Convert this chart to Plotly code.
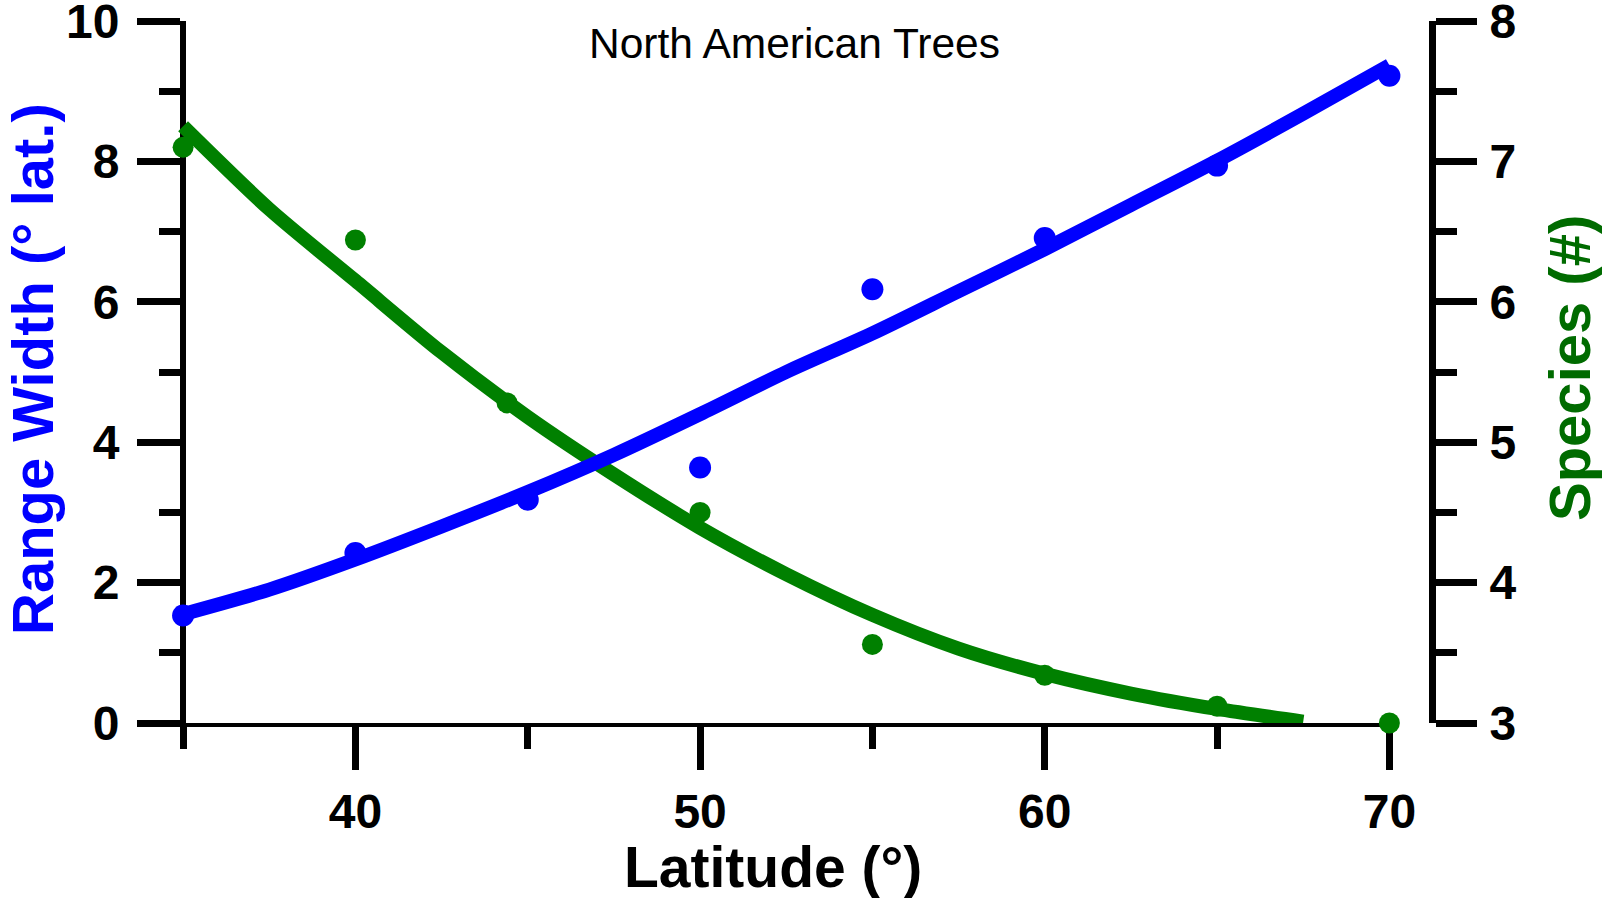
import plotly.graph_objects as go

# Observed values by latitude
LAT_POINTS = [35, 40, 45, 50, 55, 60, 65, 70]
RANGE_WIDTH = [1.53, 2.42, 3.18, 3.64, 6.18, 6.91, 7.94, 9.22]

SPECIES_LAT = [35, 40, 44.4, 50, 55, 60, 65, 70]
SPECIES = [7.10, 6.44, 5.28, 4.50, 3.56, 3.34, 3.12, 3.00]

# Fitted curves
FIT_LAT = [35, 37.5, 40, 42.5, 45, 47.5, 50, 52.5, 55, 57.5, 60, 62.5, 65, 67.5, 70]
RANGE_FIT = [1.55, 1.90, 2.33, 2.80, 3.29, 3.82, 4.40, 5.00, 5.55, 6.15, 6.75, 7.38, 8.01, 8.68, 9.37]
SPECIES_FIT_LAT = [35, 37.5, 40, 42.5, 45, 47.5, 50, 52.5, 55, 57.5, 60, 62.5, 65, 67.5]
SPECIES_FIT = [7.25, 6.66, 6.15, 5.64, 5.18, 4.77, 4.39, 4.06, 3.77, 3.53, 3.35, 3.21, 3.10, 3.01]

X_TICKS = [40, 50, 60, 70]
LEFT_TICKS = [0, 2, 4, 6, 8, 10]
RIGHT_TICKS = [3, 4, 5, 6, 7, 8]

BLUE = "#0000ff"
GREEN = "#008000"
GREEN_TEXT = "#006b00"

tick_font = dict(family="Liberation Sans", size=48, color="black", weight="bold")
title_font = dict(family="Liberation Sans", size=58, weight="bold")

fig = go.Figure()

fig.add_trace(go.Scatter(
    x=SPECIES_FIT_LAT, y=SPECIES_FIT, yaxis="y", mode="lines",
    line=dict(color=GREEN, width=14, shape="spline", smoothing=0.8),
    showlegend=False, cliponaxis=False))
fig.add_trace(go.Scatter(
    x=SPECIES_LAT, y=SPECIES, yaxis="y", mode="markers",
    marker=dict(color=GREEN, size=21, line=dict(width=0)),
    showlegend=False, cliponaxis=False))
fig.add_trace(go.Scatter(
    x=FIT_LAT, y=RANGE_FIT, yaxis="y2", mode="lines",
    line=dict(color=BLUE, width=14, shape="spline", smoothing=0.8),
    showlegend=False, cliponaxis=False))
fig.add_trace(go.Scatter(
    x=LAT_POINTS, y=RANGE_WIDTH, yaxis="y2", mode="markers",
    marker=dict(color=BLUE, size=22, line=dict(width=0)),
    showlegend=False, cliponaxis=False))

fig.update_layout(
    width=1606, height=898,
    margin=dict(l=140, r=174, t=21, b=175, pad=0, autoexpand=False),
    paper_bgcolor="white", plot_bgcolor="white",
    xaxis=dict(
        domain=[0, 0.9745], range=[33.75, 70.28], anchor="y",
        showline=True, linewidth=4, linecolor="black",
        ticks="outside", ticklen=43, tickwidth=7, tickcolor="black",
        tickmode="array", tickvals=X_TICKS, ticktext=[str(v) for v in X_TICKS],
        minor=dict(ticks="outside", ticklen=22, tickwidth=7, tickcolor="black",
                   tick0=35, dtick=10),
        showgrid=False, zeroline=False, tickfont=tick_font, automargin=False,
        ticklabelstandoff=0, ticklabeloverflow="allow", layer="below traces",
    ),
    yaxis=dict(
        domain=[0, 1], range=[3, 8], anchor="free", position=1.0, side="right",
        showline=True, linewidth=7, linecolor="black",
        ticks="outside", ticklen=41, tickwidth=7, tickcolor="black",
        tickmode="array", tickvals=RIGHT_TICKS, ticktext=[str(v) for v in RIGHT_TICKS],
        minor=dict(ticks="outside", ticklen=21, tickwidth=7, tickcolor="black",
                   tick0=3.5, dtick=1),
        showgrid=False, zeroline=False, tickfont=tick_font, automargin=False,
        ticklabelstandoff=3, ticklabeloverflow="allow", layer="below traces",
    ),
    yaxis2=dict(
        domain=[0, 1], range=[0, 10], anchor="free", overlaying="y",
        position=0.03328, side="left",
        showline=True, linewidth=6, linecolor="black",
        ticks="outside", ticklen=43, tickwidth=7, tickcolor="black",
        tickmode="array", tickvals=LEFT_TICKS, ticktext=[str(v) for v in LEFT_TICKS],
        minor=dict(ticks="outside", ticklen=21, tickwidth=7, tickcolor="black",
                   tick0=1, dtick=2),
        showgrid=False, zeroline=False, tickfont=tick_font, automargin=False,
        ticklabelstandoff=8, ticklabeloverflow="allow", layer="below traces",
    ),
    annotations=[
        dict(text="North American Trees", xref="paper", yref="paper",
             x=(794 - 140) / 1292, y=1 - (43 - 21) / 702, showarrow=False,
             xanchor="center", yanchor="middle",
             font=dict(family="Liberation Sans", size=42.5, color="black")),
        dict(text="Range Width (° lat.)", xref="paper", yref="paper",
             x=(32 - 140) / 1292, y=1 - (369 - 21) / 702, showarrow=False,
             textangle=-90, xanchor="center", yanchor="middle",
             font=dict(color=BLUE, **title_font)),
        dict(text="Species (#)", xref="paper", yref="paper",
             x=(1569 - 140) / 1292, y=1 - (368 - 21) / 702, showarrow=False,
             textangle=-90, xanchor="center", yanchor="middle",
             font=dict(color=GREEN_TEXT, **title_font)),
        dict(text="Latitude (°)", xref="paper", yref="paper",
             x=(773 - 140) / 1292, y=1 - (867 - 21) / 702, showarrow=False,
             xanchor="center", yanchor="middle",
             font=dict(color="black", family="Liberation Sans", size=57, weight="bold")),
    ],
)

fig.write_html("out.html")
